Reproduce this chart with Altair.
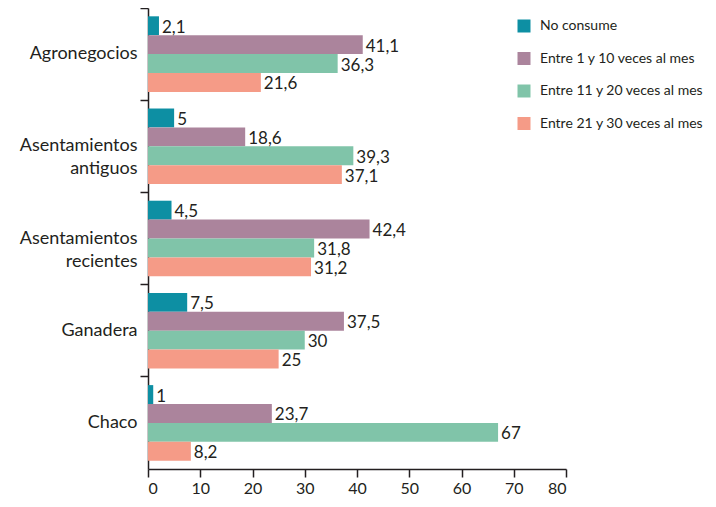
import altair as alt
import pandas as pd

categories = ["Agronegocios", "Asentamientos antiguos", "Asentamientos recientes", "Ganadera", "Chaco"]
series = ["No consume", "Entre 1 y 10 veces al mes", "Entre 11 y 20 veces al mes", "Entre 21 y 30 veces al mes"]
no_consume = [2.1, 5, 4.5, 7.5, 1]
entre_1_10 = [41.1, 18.6, 42.4, 37.5, 23.7]
entre_11_20 = [36.3, 39.3, 31.8, 30, 67]
entre_21_30 = [21.6, 37.1, 31.2, 25, 8.2]
colors = ["#0d8fa3", "#ab849c", "#80c4a9", "#f59b87"]
x_ticks = [0, 10, 20, 30, 40, 50, 60, 70, 80]

rows = []
for s, vals in zip(series, [no_consume, entre_1_10, entre_11_20, entre_21_30]):
    for c, v in zip(categories, vals):
        rows.append({"zona": c, "serie": s, "valor": v})
df = pd.DataFrame(rows)

FONT = "Lato"
TXT = "#231f20"

y_enc = alt.Y(
    "zona:N",
    sort=categories,
    title=None,
    scale=alt.Scale(paddingInner=0, paddingOuter=0),
    axis=alt.Axis(
        labelExpr="split(datum.value, ' ')",
        labelFontSize=18,
        labelLineHeight=23,
        labelPadding=3,
        labelColor=TXT,
        labelFont=FONT,
        tickSize=8,
        bandPosition=0,
        domainColor=TXT,
        tickColor=TXT,
        domainWidth=1.5,
        tickWidth=1.5,
    ),
)
yoff = alt.YOffset("serie:N", sort=series, scale=alt.Scale(paddingInner=0, paddingOuter=0.44))
x_enc = alt.X(
    "valor:Q",
    title=None,
    scale=alt.Scale(domain=[0, 80], nice=False),
    axis=alt.Axis(
        values=x_ticks,
        grid=False,
        labelFontSize=16,
        labelColor=TXT,
        labelFont=FONT,
        tickSize=8,
        labelPadding=3,
        domainColor=TXT,
        tickColor=TXT,
        domainWidth=1.5,
        tickWidth=1.5,
    ),
)

bars = alt.Chart(df).mark_bar().encode(
    y=y_enc,
    yOffset=yoff,
    x=x_enc,
    color=alt.Color(
        "serie:N",
        sort=series,
        scale=alt.Scale(domain=series, range=colors),
        legend=alt.Legend(
            title=None,
            orient="none",
            legendX=369,
            legendY=11,
            padding=0,
            labelFontSize=14,
            labelFont=FONT,
            labelColor=TXT,
            labelLimit=300,
            symbolType="square",
            symbolSize=169,
            symbolStrokeWidth=0,
            symbolOpacity=1,
            rowPadding=18.5,
            labelOffset=9,
        ),
    ),
)

labels = alt.Chart(df).transform_calculate(
    etiqueta="replace(toString(datum.valor), '.', ',')"
).mark_text(align="left", baseline="middle", dx=3, dy=2, fontSize=17, font=FONT, color=TXT).encode(
    y=alt.Y("zona:N", sort=categories),
    yOffset=alt.YOffset("serie:N", sort=series),
    x=alt.X("valor:Q"),
    text="etiqueta:N",
)

chart = alt.layer(bars, labels).properties(
    width=418,
    height=461,
    autosize=alt.AutoSizeParams(type="none"),
    padding={"left": 140, "top": 0, "right": 140, "bottom": 30},
).configure(font=FONT).configure_view(strokeWidth=0, stroke="transparent")

chart.save("out.html", embed_options={"renderer": "svg", "actions": False})
